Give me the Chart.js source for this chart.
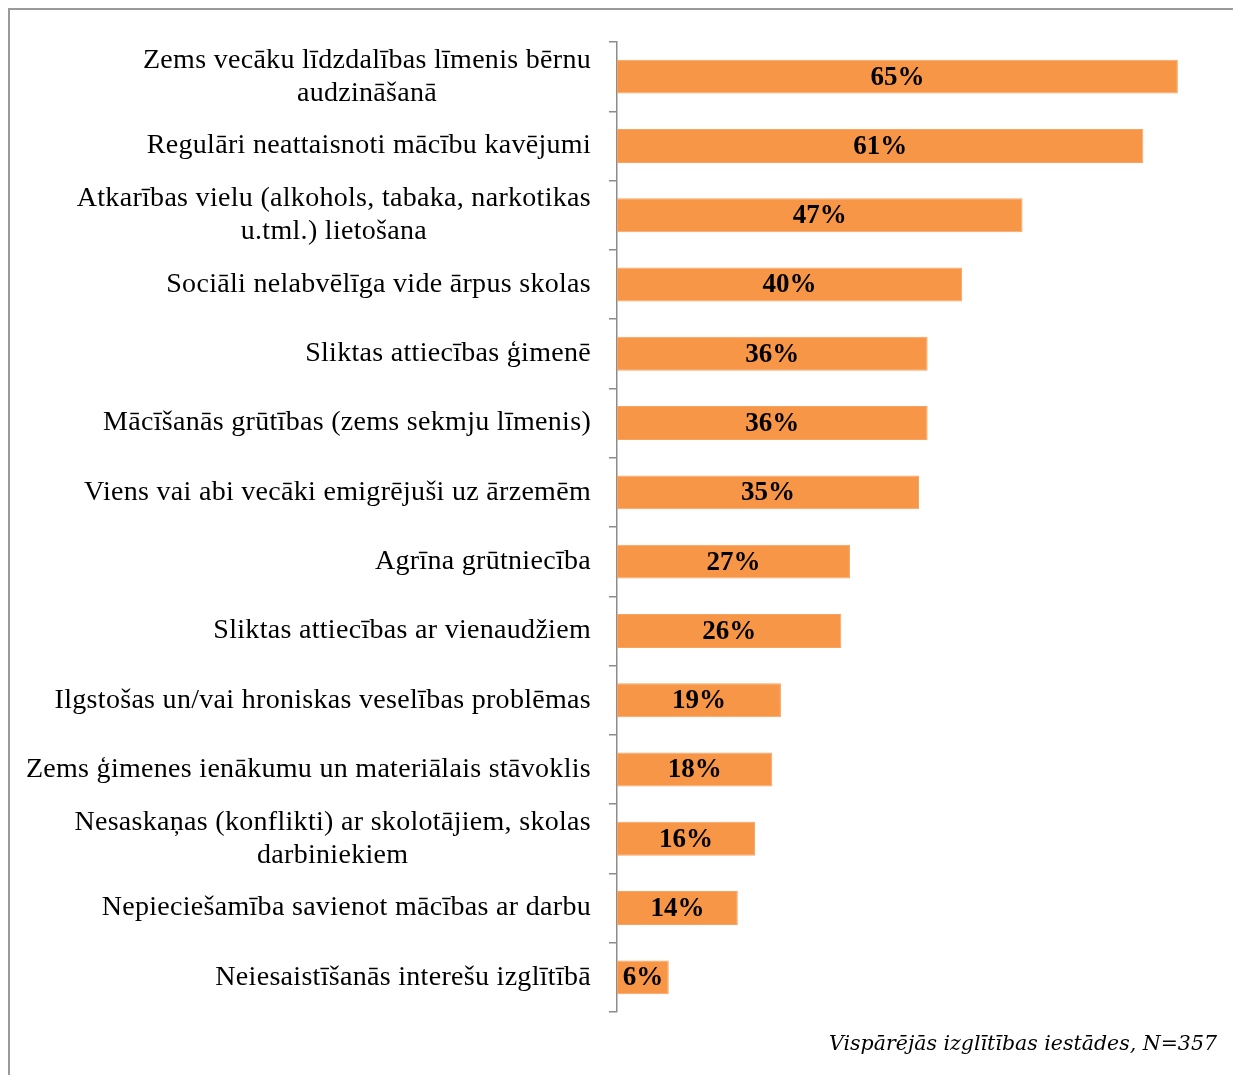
<!DOCTYPE html>
<html>
<head>
<meta charset="utf-8">
<script src="https://cdn.jsdelivr.net/npm/chart.js@4.4.0/dist/chart.umd.min.js"></script>
<style>
  html, body { margin: 0; padding: 0; background: #fff; overflow: hidden; }
  #frame { position: absolute; left: 8px; top: 8px; width: 2000px; height: 2000px; border: 2px solid #9a9a9a; }
  #wrap { position: absolute; left: 0; top: 0; width: 1233px; height: 1075px; }
</style>
</head>
<body>
<div id="frame"></div>
<div id="wrap"><canvas id="barChart"></canvas></div>
<script>
const categories = [
    ['Zems vecāku līdzdalības līmenis bērnu', 'audzināšanā'],
    'Regulāri neattaisnoti mācību kavējumi',
    ['Atkarības vielu (alkohols, tabaka, narkotikas', 'u.tml.) lietošana'],
    'Sociāli nelabvēlīga vide ārpus skolas',
    'Sliktas attiecības ģimenē',
    'Mācīšanās grūtības (zems sekmju līmenis)',
    'Viens vai abi vecāki emigrējuši uz ārzemēm',
    'Agrīna grūtniecība',
    'Sliktas attiecības ar vienaudžiem',
    'Ilgstošas un/vai hroniskas veselības problēmas',
    'Zems ģimenes ienākumu un materiālais stāvoklis',
    ['Nesaskaņas (konflikti) ar skolotājiem, skolas', 'darbiniekiem'],
    'Nepieciešamība savienot mācības ar darbu',
    'Neiesaistīšanās interešu izglītībā'
];
const shares = [65, 61, 47, 40, 36, 36, 35, 27, 26, 19, 18, 16, 14, 6];
const footnote = 'Vispārējās izglītības iestādes, N=357';

const labelFont = '28px "Liberation Serif", "Times New Roman", serif';
const valueFont = 'bold 27px "Liberation Serif", "Times New Roman", serif';

// draws category names (lines centred on each other, block right-aligned)
const categoryLabels = {
    id: 'categoryLabels',
    afterDraw(chart) {
        const ctx = chart.ctx;
        const yScale = chart.scales.y;
        ctx.save();
        ctx.font = labelFont;
        ctx.letterSpacing = '0.3px';
        ctx.fillStyle = '#000';
        ctx.textBaseline = 'middle';
        ctx.textAlign = 'center';
        const right = 591;
        const lineH = 33;
        categories.forEach((label, i) => {
            const lines = Array.isArray(label) ? label : [label];
            const w = Math.max(...lines.map(l => ctx.measureText(l).width));
            const cx = right - w / 2;
            const cy = yScale.getPixelForTick(i);
            const y0 = cy - (lines.length - 1) * lineH / 2;
            lines.forEach((l, j) => ctx.fillText(l, cx, y0 + j * lineH));
        });
        ctx.restore();
    }
};

// value labels in the middle of the bars + footnote
const valueLabels = {
    id: 'valueLabels',
    afterDatasetsDraw(chart) {
        const ctx = chart.ctx;
        const meta = chart.getDatasetMeta(0);
        ctx.save();
        ctx.font = valueFont;
        ctx.fillStyle = '#000';
        ctx.textAlign = 'center';
        ctx.textBaseline = 'middle';
        meta.data.forEach((bar, i) => {
            const cx = (bar.x + bar.base) / 2;
            ctx.fillText(shares[i] + '%', cx, bar.y + 1);
        });
        ctx.font = 'italic 20.5px "DejaVu Serif", serif';
        ctx.textAlign = 'right';
        ctx.textBaseline = 'alphabetic';
        ctx.fillText(footnote, 1217, 1050);
        ctx.restore();
    }
};

new Chart(document.getElementById('barChart'), {
    type: 'bar',
    data: {
        labels: categories,
        datasets: [{
            data: shares,
            backgroundColor: '#F79646',
            borderColor: '#F9A262',
            borderWidth: 1,
            borderSkipped: false,
            barPercentage: 0.49,
            categoryPercentage: 1
        }]
    },
    options: {
        indexAxis: 'y',
        responsive: true,
        maintainAspectRatio: false,
        animation: false,
        layout: {
            padding: { left: 0, right: 12, top: 42, bottom: 63 }
        },
        plugins: {
            legend: { display: false },
            tooltip: { enabled: false }
        },
        scales: {
            x: {
                display: false,
                min: 0,
                max: 70
            },
            y: {
                afterFit(scale) { scale.width = 617; },
                ticks: { display: false },
                grid: {
                    offset: true,
                    drawOnChartArea: false,
                    drawTicks: true,
                    tickLength: 8,
                    color: '#8c8c8c',
                    lineWidth: 1.5
                },
                border: { display: true, color: '#8c8c8c', width: 1.5 }
            }
        }
    },
    plugins: [categoryLabels, valueLabels]
});
</script>
</body>
</html>
